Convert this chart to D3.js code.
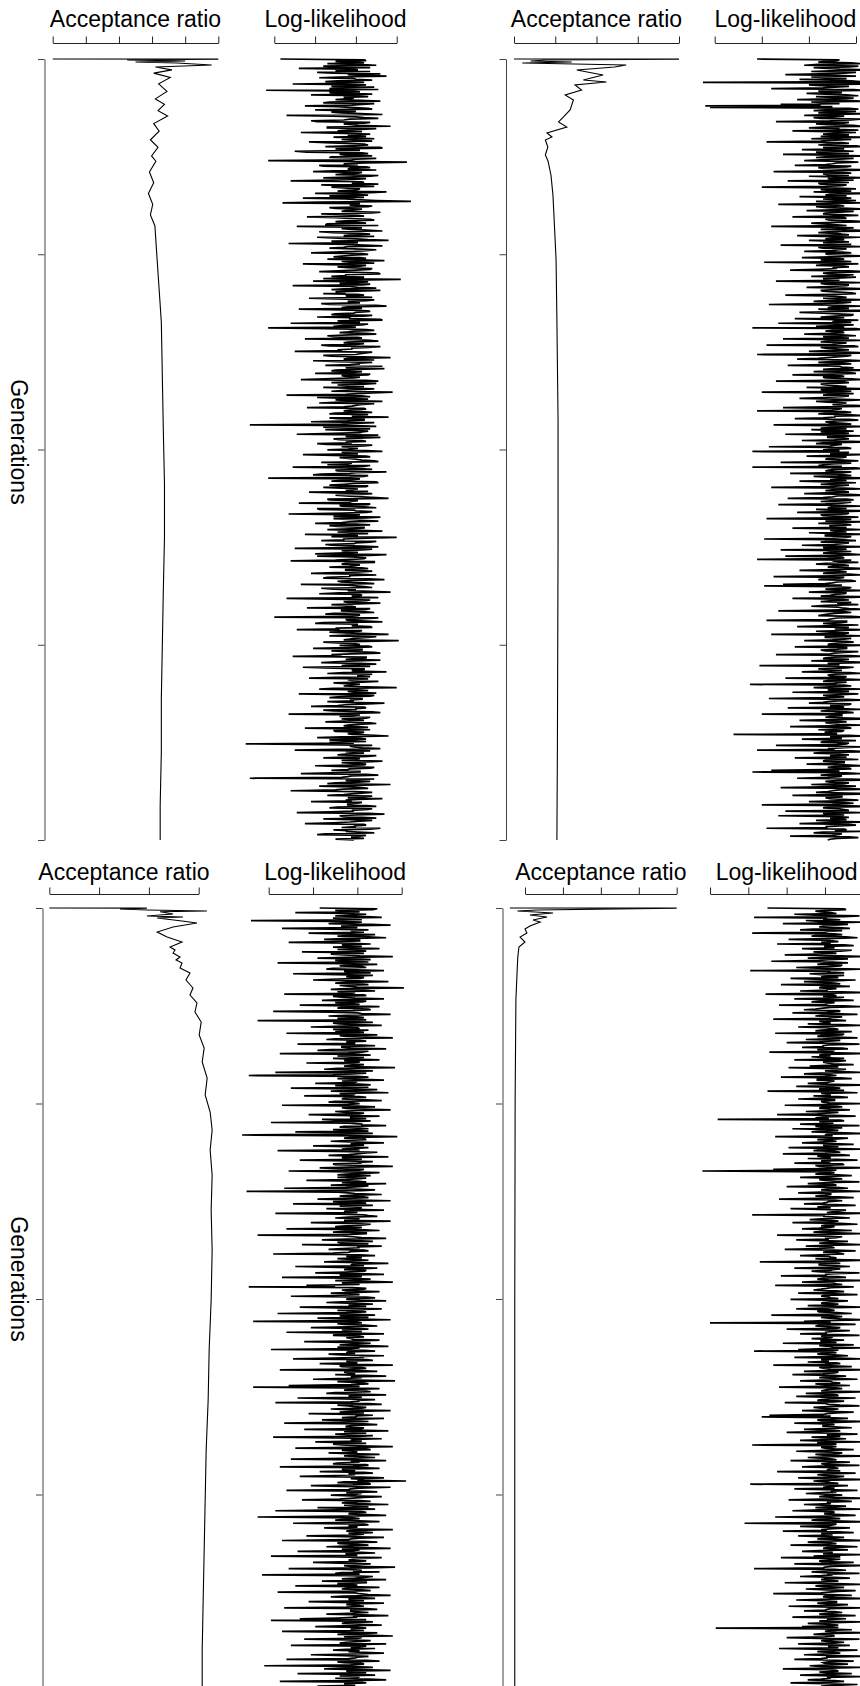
<!DOCTYPE html>
<html><head><meta charset="utf-8">
<script src="https://cdn.jsdelivr.net/npm/d3@7"></script>
<style>body{margin:0;background:#fff} svg{display:block} text{font-family:"Liberation Sans",Arial,Helvetica,sans-serif;font-size:23px;fill:#000}</style>
</head><body><svg id="chart" width="860" height="1686"></svg>
<script>
// ---------- data ----------
const genMax = 20000;
const genTicks = [0, 5000, 10000, 15000, 20000];

const accTicksTL = [0, 0.2, 0.4, 0.6, 0.8, 1.0];
const accTicksTR = [0, 0.25, 0.5, 0.75, 1.0];
const accTicksBL = [0, 0.2, 0.4, 0.6];
const accTicksBR = [0.1, 0.2, 0.3, 0.4, 0.5];

const llTicksTL = [0, 20, 40, 60];
const llTicksTR = [0, 20, 40, 60];
const llTicksBL = [0, 20, 40, 60];
const llTicksBR = [0, 20, 40, 60, 80];

const accGenTL = [0,3,26,51,77,102,154,205,279,361,471,637,829,1021,1160,1324,1462,1654,1848,2068,2260,2481,2619,2893,3169,3443,3720,3994,4270,5094,5914,6746,8115,9498,10875,12250,13619,15002,16379,17754,19123,20000];
const accTL = [0,1.0,0.45,0.8,0.5,0.75,0.96,0.62,0.72,0.61,0.71,0.64,0.69,0.62,0.675,0.636,0.694,0.61,0.643,0.59,0.636,0.597,0.623,0.584,0.61,0.578,0.604,0.59,0.617,0.63,0.643,0.656,0.662,0.668,0.675,0.675,0.668,0.662,0.656,0.656,0.649,0.649];

const accGenTR = [0,3,26,51,77,102,154,205,282,410,538,589,666,794,922,1050,1306,1485,1613,1741,1894,1997,2074,2253,2458,2611,2970,3482,3994,5146,6682,9242,12314,15130,17690,20000];
const accTR = [0,1.0,0.2,0.1,0.35,0.05,0.68,0.61,0.38,0.54,0.42,0.56,0.37,0.41,0.31,0.36,0.34,0.30,0.27,0.32,0.2,0.23,0.19,0.205,0.19,0.206,0.224,0.236,0.242,0.255,0.26,0.267,0.267,0.265,0.263,0.26];

const accGenBL = [0,3,26,51,77,95,153,205,230,256,333,384,486,614,742,870,998,1074,1151,1253,1330,1407,1535,1663,1842,2046,2225,2430,2660,2916,3249,3581,3939,4349,4783,5218,5679,6190,6830,7725,8748,10027,11306,12585,13864,15143,16422,17701,18980,20000];
const accBL = [0,0.392,0.284,0.392,0.633,0.445,0.497,0.392,0.537,0.433,0.533,0.593,0.497,0.433,0.473,0.533,0.485,0.505,0.497,0.525,0.509,0.533,0.525,0.565,0.549,0.577,0.565,0.593,0.585,0.610,0.602,0.622,0.614,0.634,0.626,0.646,0.654,0.646,0.654,0.650,0.654,0.650,0.642,0.638,0.630,0.626,0.622,0.618,0.614,0.614];

const accGenBR = [0,3,51,77,128,179,230,307,358,460,537,640,742,870,998,1253,1663,2353,4911,10027,15143,20000];
const accBR = [0.06,0.5,0.132,0.08,0.174,0.113,0.158,0.121,0.14,0.113,0.1,0.105,0.087,0.1,0.084,0.081,0.079,0.076,0.074,0.073,0.073,0.073];

const llTL = [
3,44,45,30,38,44,26,41,50,24,33,47,12,36,41,30,47,21,29,52,36,43,55,32,22,39,40,48,31,25,44,35,9,45,37,28,49,33,27,51,-4,38,42,27,35,48,18,40,46,34,
39,35,30,42,52,27,24,49,43,38,15,31,37,46,48,20,33,40,28,33,45,53,6,29,40,44,51,37,34,18,21,47,44,34,38,41,57,26,26,50,42,36,31,43,13,30,47,39,36,45,
29,40,49,33,41,48,17,25,35,44,46,37,25,52,53,30,38,42,10,16,43,46,32,35,48,28,27,50,40,38,-3,32,65,45,34,41,22,24,45,47,37,36,50,29,19,43,41,34,30,51,
47,36,24,45,39,29,8,43,44,38,51,23,33,49,28,34,42,41,36,31,55,47,20,39,46,27,31,44,14,35,40,50,67,22,4,42,38,37,48,46,27,30,43,40,35,33,52,48,23,38,
41,44,16,30,37,47,49,35,30,40,45,26,25,51,11,37,43,33,38,45,53,22,29,42,47,38,34,49,21,31,40,46,56,28,32,41,7,36,44,53,36,34,27,39,50,45,39,29,18,43,
46,38,33,29,42,45,26,41,54,33,37,49,14,27,45,42,31,36,48,47,40,31,22,40,51,52,35,35,28,44,43,24,62,39,19,46,38,32,47,43,9,37,41,50,34,28,52,41,30,35,
24,41,44,35,38,48,17,30,49,45,36,38,42,23,27,50,55,36,33,43,12,33,46,47,40,39,30,28,48,44,21,37,37,52,53,31,35,42,8,46,43,34,29,40,-3,26,45,49,39,36,
32,45,50,37,26,29,41,43,15,39,47,51,36,34,44,40,23,27,52,46,38,38,31,33,10,48,45,42,40,24,28,44,57,36,34,49,19,31,48,41,42,37,25,53,37,35,54,40,30,28,
43,39,20,47,46,33,35,42,39,25,13,45,51,37,28,50,44,31,37,44,24,36,49,41,33,28,58,48,41,35,6,43,47,21,36,46,30,38,53,32,22,49,42,40,38,34,16,44,45,37,
34,42,48,30,27,46,40,38,56,27,31,44,44,36,18,49,39,33,-12,40,50,24,36,47,25,37,46,43,42,29,11,51,37,35,52,41,29,32,43,45,35,38,21,26,48,44,33,39,41,36,
26,45,53,33,38,41,14,29,45,47,32,36,40,43,49,51,23,38,36,26,47,44,9,35,42,48,30,31,55,40,37,23,19,46,44,37,-3,42,39,34,28,50,51,39,34,27,46,45,24,33,
41,38,35,46,17,30,48,43,30,35,43,50,56,26,27,41,38,37,12,47,46,32,33,44,50,21,22,39,40,48,45,34,7,42,36,29,52,45,29,36,42,51,37,33,20,40,47,27,31,44,
44,37,26,42,53,31,38,46,15,39,41,28,60,45,34,34,23,50,47,40,39,25,28,43,51,36,10,48,43,33,36,41,31,20,55,47,21,38,45,44,38,30,8,49,49,35,33,42,40,37,
27,43,46,35,35,48,42,30,18,41,50,37,37,26,24,46,54,39,31,33,44,49,13,36,40,44,48,23,29,40,36,47,57,32,22,42,43,38,39,51,6,28,47,45,34,36,52,41,28,34,
38,40,16,47,45,33,33,44,49,29,25,42,41,37,0,51,44,35,36,45,53,24,20,41,39,38,47,48,30,32,11,43,42,27,35,46,56,36,27,50,46,39,37,34,61,45,24,31,40,42,
32,46,48,36,19,43,43,28,37,49,52,38,28,33,9,45,45,40,35,52,40,30,23,42,50,37,33,47,14,25,44,44,38,39,55,34,26,48,41,41,47,31,17,46,36,38,51,43,29,35,
42,38,34,45,60,29,22,41,46,36,39,50,12,33,49,47,31,27,43,43,37,39,26,35,54,46,35,31,18,44,45,40,40,24,29,48,52,37,7,42,38,32,47,45,33,39,44,34,25,47,
50,41,36,34,41,46,15,38,47,29,30,44,43,36,38,49,56,33,21,42,45,27,34,45,27,39,-14,24,48,37,39,43,52,31,10,47,35,40,44,35,31,50,46,36,24,42,40,33,53,45,
33,39,45,44,20,31,49,47,37,36,28,42,42,28,13,45,51,38,36,33,-12,49,39,35,47,41,30,26,57,44,22,37,43,46,34,30,8,40,48,43,38,34,26,48,44,36,53,41,35,38,
18,43,41,36,36,45,50,31,27,48,46,38,39,27,11,46,54,40,32,34,43,50,24,37,48,42,37,29,15,44,45,39,40,33,52,47,29,36,35,41,49,25,21,45,42,38,38,44,30,39];

const llTR = [
18,53,52,47,44,58,63,44,38,61,57,42,48,53,66,49,41,60,55,45,30,52,60,41,47,56,36,50,58,62,-5,60,66,40,45,57,51,46,24,59,62,44,49,54,39,47,56,61,43,50,
59,48,35,56,64,41,47,53,28,45,-4,50,-2,57,61,47,42,60,53,44,67,51,38,55,50,42,45,62,58,49,26,57,55,43,48,59,63,46,40,53,52,61,33,48,60,52,46,57,54,45,
65,52,41,58,49,45,22,54,57,49,44,60,62,46,51,55,37,51,59,43,47,57,29,50,64,48,43,59,53,45,38,54,61,52,50,47,34,58,56,44,46,55,66,49,25,53,58,46,48,57,
40,55,63,48,52,59,31,50,57,44,45,56,54,47,20,52,60,45,49,58,42,53,67,49,47,56,36,51,58,46,51,60,43,54,62,48,27,52,55,43,48,57,64,50,39,59,53,47,46,53,
61,50,33,55,56,47,49,58,65,51,41,46,52,56,24,49,59,53,45,60,68,48,44,52,54,57,35,45,62,51,47,55,40,49,57,46,50,58,28,52,63,44,46,56,53,50,38,54,58,47,
48,56,64,49,37,52,55,45,50,58,21,51,61,47,43,55,57,50,52,44,32,57,66,52,46,48,59,54,41,60,54,46,49,53,26,50,63,45,47,57,56,49,39,55,67,52,45,46,51,58,
60,51,30,47,53,56,46,52,65,48,42,58,55,45,23,53,62,50,48,57,44,49,68,54,36,46,52,59,58,51,45,55,34,47,61,53,50,58,27,49,59,52,43,55,16,60,64,50,47,54,
55,49,38,54,60,46,49,57,29,51,63,48,45,56,53,50,22,59,61,45,47,53,57,48,40,55,66,47,18,58,56,52,48,44,35,57,62,50,44,55,58,47,31,53,54,59,51,46,67,52,
42,57,60,50,33,53,55,46,47,58,64,49,26,55,57,51,45,47,52,56,39,52,65,45,48,58,20,53,59,49,46,57,54,46,36,51,62,55,43,48,56,53,50,59,68,47,29,54,53,50,
18,55,58,48,44,56,63,51,51,46,34,57,61,52,47,49,55,58,25,47,66,53,45,56,41,50,59,45,52,57,30,52,62,48,48,55,57,51,37,58,67,46,43,54,51,49,23,56,58,50,
46,53,16,57,56,49,64,52,39,56,54,48,47,55,61,50,28,58,50,46,44,54,16,60,63,51,48,47,58,55,32,52,55,58,42,49,66,53,49,56,36,48,60,51,45,57,53,49,24,55,
62,50,47,55,57,48,38,57,65,52,50,46,31,56,59,51,45,58,54,47,27,53,63,50,48,56,43,49,68,54,35,57,56,45,46,53,61,50,22,58,53,47,64,52,44,55,58,49,49,56,
33,54,62,49,51,56,40,52,66,47,47,58,56,50,21,55,60,48,45,57,54,51,37,53,64,46,49,56,28,52,58,49,46,57,63,51,30,54,55,48,18,58,50,53,61,47,43,55,57,50,
48,56,65,51,36,53,56,48,46,57,62,50,25,55,53,46,44,58,60,52,50,47,29,54,21,50,58,57,47,53,64,48,40,56,55,51,49,45,67,55,33,52,57,49,45,58,52,54,61,47,
41,52,54,57,63,49,27,55,58,51,48,46,44,58,66,52,50,48,22,56,56,53,46,50,61,47,35,57,53,51,65,54,43,49,57,55,24,52,62,47,47,58,55,50,38,56,59,53,49,48,
64,50,34,56,56,52,45,47,61,55,51,49,26,57,63,51,47,46,57,54,41,58,66,48,49,53,19,50,59,56,44,52,54,47,37,57,62,51,48,49,56,55,30,53,65,48,46,56,52,51,
15,55,58,49,42,53,63,48,50,57,33,51,61,54,46,50,55,47,23,56,65,52,48,46,40,58,57,49,52,55,31,53,62,48,45,56,59,51,20,54,54,49,47,57,67,50,36,52,56,47,
49,53,63,48,32,56,58,51,44,55,54,47,47,52,8,57,64,49,51,54,37,50,60,46,45,57,56,52,26,48,62,55,48,51,18,58,65,47,42,53,57,49,50,56,34,52,61,47,46,55,
55,49,39,55,64,51,48,57,58,47,24,53,16,56,62,50,45,54,53,48,35,57,66,52,47,49,57,55,41,51,60,46,28,57,63,53,50,48,43,56,68,50,33,54,54,47,49,55,61,52,
40,54,59,50,20,56,65,48,46,53,55,57,30,51,62,46,48,55,27,52,57,49,51,56,43,50,64,47,36,57,60,53,47,48,22,55,56,51,63,46,42,54,53,50,32,57,61,52,49,48];

const llBL = [
23,49,47,30,36,41,12,35,44,38,30,44,51,29,38,42,-8,30,42,36,27,46,55,33,33,40,6,28,45,37,39,43,18,32,48,39,31,45,53,34,25,41,41,29,9,38,46,33,35,42,
29,37,50,31,40,44,15,36,43,28,34,41,56,35,22,40,46,30,37,45,4,33,49,38,32,42,44,29,26,39,52,34,38,46,11,31,47,37,35,43,41,28,20,40,54,35,30,41,45,32,
36,40,61,35,28,42,48,31,39,37,7,43,44,29,33,39,52,34,24,44,42,30,37,41,14,36,50,33,31,45,46,38,2,28,40,42,55,35,27,40,43,31,36,44,-5,37,47,29,32,39,
51,34,19,40,41,29,45,38,30,43,8,36,49,32,35,44,56,30,26,41,44,35,38,39,13,42,48,33,33,37,53,28,22,45,42,36,5,40,46,31,37,43,29,38,50,34,40,41,17,36,
43,39,34,42,57,31,25,37,47,34,3,44,38,29,-9,40,45,36,31,43,52,33,40,38,21,41,46,30,36,45,10,35,49,39,28,42,54,32,39,37,16,41,44,34,33,44,51,30,27,38,
41,36,6,40,48,33,35,43,55,38,30,35,43,41,18,31,50,37,37,44,24,30,46,39,1,36,42,42,53,34,32,40,45,29,39,45,12,37,47,33,-12,41,58,38,34,43,44,35,28,40,
52,37,38,43,20,34,45,39,33,41,4,30,49,44,40,36,27,38,54,33,36,42,14,35,47,40,42,29,30,45,56,37,23,32,43,41,9,36,50,43,35,31,46,38,31,44,39,35,17,40,
44,33,53,40,28,45,41,35,7,38,48,42,-10,31,36,39,51,36,32,43,45,34,22,41,55,29,38,44,11,37,47,32,40,42,26,38,52,35,34,40,3,33,43,45,49,36,30,41,37,34,
55,40,19,36,46,43,35,30,42,38,8,41,50,34,29,44,44,37,-5,33,38,42,53,35,24,39,47,31,33,45,15,36,51,40,41,33,27,43,45,37,36,29,2,41,48,35,39,42,31,38,
45,34,25,41,54,38,37,43,12,31,49,37,34,44,43,35,21,40,52,32,40,42,6,36,46,39,30,45,56,33,36,41,17,30,-9,38,44,43,33,35,50,40,28,37,41,29,10,44,48,36,
35,41,53,33,26,39,47,36,39,44,14,30,51,38,31,42,44,35,4,40,48,32,37,45,22,37,55,34,-7,40,42,31,34,43,49,36,19,39,45,33,38,42,8,37,52,30,29,41,43,35,
37,38,50,42,16,34,46,40,32,45,54,31,41,37,1,43,48,36,35,39,27,33,52,41,43,29,11,44,47,35,38,40,23,38,56,32,33,42,44,36,5,41,49,34,36,39,30,43,53,37,
42,35,20,40,57,31,39,43,45,37,9,41,-7,33,50,38,34,44,46,30,26,39,53,36,38,42,13,34,48,40,41,37,3,45,51,31,36,38,44,42,28,35,55,39,32,43,18,36,47,40,
39,33,52,41,24,37,45,30,7,43,49,38,35,35,43,42,16,39,54,34,40,44,30,36,47,40,2,31,51,38,37,42,21,35,44,29,33,41,56,37,12,44,46,33,38,40,27,36,50,39,
34,42,48,35,10,40,53,37,41,31,29,44,45,38,5,41,50,33,36,39,23,43,47,36,39,30,14,42,52,37,43,40,62,34,31,45,46,38,19,32,55,41,37,36,8,43,49,35,42,39,
28,37,51,43,38,32,15,41,46,36,33,40,54,34,40,45,22,39,48,31,3,42,44,37,36,44,53,33,-5,38,41,35,30,41,50,30,11,43,45,36,39,40,25,34,56,38,35,42,47,36,
43,39,17,34,52,41,37,36,6,43,49,31,32,40,45,37,26,44,55,33,41,38,13,42,48,35,35,40,1,30,51,43,38,36,44,39,20,32,46,41,34,37,57,45,9,35,42,38,50,33,
30,41,-3,36,47,43,39,33,53,38,24,44,44,31,36,40,12,37,50,35,33,42,46,30,4,39,41,45,55,34,28,41,48,36,38,43,18,32,52,38,35,40,43,35,7,44,49,37,37,39,
45,36,26,42,54,38,40,31,14,44,1,39,47,35,33,41,51,33,21,40,44,37,38,43,6,30,49,38,31,45,56,34,42,40,16,36,46,42,35,32,53,39,10,44,41,37,48,35,29,41,
36,43,52,38,19,34,45,40,39,36,8,44,50,31,34,42,43,37,-2,39,47,33,25,41,55,35,38,44,13,38,48,32,41,40,30,45,53,36,5,41,44,34,37,39,22,43,49,37,40,38];

const llBR = [
30,70,71,62,55,58,63,66,44,55,78,70,23,61,59,68,50,57,80,64,38,72,66,59,57,67,73,54,47,69,62,60,22,65,69,56,53,71,77,62,41,58,64,67,58,63,35,70,75,60,
60,65,48,58,74,68,54,61,66,55,39,67,81,60,51,72,62,57,32,64,72,59,56,69,68,62,45,56,79,66,21,61,63,70,52,58,70,63,58,67,42,55,76,64,49,60,65,68,37,62,
73,58,57,66,61,61,47,69,82,56,29,64,66,59,70,62,44,68,75,57,53,65,62,60,36,70,79,63,59,55,49,67,68,61,43,64,77,58,55,69,64,62,33,66,71,57,60,63,51,68,
80,63,46,60,65,67,58,55,74,64,34,70,69,58,56,66,77,61,50,68,62,57,40,65,78,62,59,59,48,69,72,56,65,64,31,67,81,60,57,63,53,58,70,66,44,71,67,59,61,64,
75,61,52,67,41,58,71,64,60,69,79,57,49,63,66,60,37,68,74,56,56,65,63,61,51,59,82,66,45,62,68,57,58,70,30,64,77,58,62,63,54,67,72,60,46,65,65,58,59,62,
80,60,39,66,69,58,57,63,73,61,50,67,61,56,35,65,76,59,55,62,4,68,70,57,64,64,47,60,78,55,58,69,43,62,67,58,53,66,81,61,60,64,34,59,72,67,56,63,66,57,
48,64,75,59,62,67,41,62,79,57,54,65,68,60,38,68,73,56,59,63,51,66,77,58,63,61,44,69,70,55,57,64,82,60,33,66,-4,62,65,58,55,67,74,61,47,63,69,57,60,65,
78,59,51,64,66,57,40,66,72,61,58,68,80,58,46,63,63,60,55,67,75,56,36,65,69,62,61,59,49,66,76,60,56,63,42,57,71,68,64,61,81,64,22,60,59,66,73,58,52,63,
67,62,43,68,77,60,58,65,62,57,48,63,74,59,54,67,81,61,35,56,69,66,60,62,45,58,72,64,57,69,79,60,50,63,65,57,39,65,76,61,59,67,70,58,47,62,63,66,55,60,
80,64,26,61,68,57,57,66,73,60,44,68,64,63,53,58,78,65,60,61,37,67,71,59,56,62,82,57,48,64,66,69,34,60,75,63,61,58,54,66,70,61,46,65,77,59,58,62,63,67,
42,60,72,65,59,58,67,63,51,67,79,59,45,62,65,56,57,66,74,61,32,64,69,58,62,68,81,60,49,63,0,65,76,57,55,62,68,66,40,59,73,64,60,61,47,67,78,58,64,63,
53,62,70,58,58,66,38,61,75,57,63,64,80,60,46,67,23,63,66,59,56,65,72,61,44,68,79,58,61,62,51,66,68,60,33,64,74,57,59,63,82,61,49,67,65,59,43,64,71,60,
57,65,77,59,47,63,64,68,55,60,73,57,36,66,69,62,60,58,81,64,50,61,66,67,45,59,76,63,58,56,70,65,39,60,62,68,78,62,54,58,67,64,48,61,75,66,61,59,31,63,
27,61,72,64,56,58,80,66,44,62,65,59,59,67,74,60,49,63,68,57,40,65,77,61,62,68,53,59,71,64,47,60,79,56,57,66,22,62,66,58,60,65,75,61,45,63,69,67,55,59,
82,63,51,60,64,66,42,58,73,64,58,61,78,57,48,65,67,62,61,68,35,59,76,63,56,60,70,66,46,58,81,64,54,61,63,67,21,59,72,62,59,65,44,60,77,63,66,57,50,64,
69,60,57,65,80,58,41,67,74,61,62,63,49,59,71,62,55,66,79,57,43,64,65,60,60,68,76,61,34,63,68,58,53,65,82,60,18,66,64,62,47,59,73,64,58,61,38,67,75,58,
61,64,46,59,70,62,56,66,81,58,51,63,66,60,42,67,77,61,59,65,72,57,48,64,63,59,79,62,54,68,37,60,68,63,57,58,75,66,44,61,82,64,60,59,23,65,71,62,53,60,
78,61,64,58,47,65,73,60,58,63,67,57,39,66,80,62,55,59,70,64,50,61,76,67,62,58,33,63,74,60,59,65,81,62,45,59,66,66,56,61,72,64,41,58,79,63,61,60,49,65,
69,62,57,66,76,59,43,64,71,61,63,57,80,65,51,60,67,63,48,67,3,58,74,62,60,66,82,59,54,64,65,60,40,57,78,63,58,61,70,65,46,59,73,62,62,67,36,60,77,64,
56,63,68,59,49,65,81,61,61,58,44,66,75,62,59,60,72,64,52,57,79,63,38,60,66,67,57,62,74,59,47,64,80,61,63,58,51,65,70,63,42,60,77,66,58,61,67,59,60,62];

// ---------- layout ----------
const panels = [
  {top:59, bottom:840, genX:45, axisY:43, titleY:27, labelY:442, label:true,
   accTicks:accTicksTL, accRange:[52.7,218.3], llTicks:llTicksTL, llRange:[274.3,396.7],
   accGen:accGenTL, acc:accTL, ll:llTL},
  {top:59, bottom:840, genX:506.5, axisY:43, titleY:27, label:false,
   accTicks:accTicksTR, accRange:[514,679], llTicks:llTicksTR, llRange:[714.7,856],
   accGen:accGenTR, acc:accTR, ll:llTR},
  {top:908, bottom:1690, genX:43, axisY:894, titleY:880, labelY:1279, label:true,
   accTicks:accTicksBL, accRange:[49.3,198.7], llTicks:llTicksBL, llRange:[268.7,401.7],
   accGen:accGenBL, acc:accBL, ll:llBL},
  {top:908, bottom:1690, genX:503, axisY:894, titleY:880, label:false,
   accTicks:accTicksBR, accRange:[525,676.7], llTicks:llTicksBR, llRange:[710,863.3],
   accGen:accGenBR, acc:accBR, ll:llBR}
];

const svg = d3.select("#chart");
svg.append("rect").attr("width",860).attr("height",1686).attr("fill","#fff");

panels.forEach(p => {
  const y = d3.scaleLinear().domain([0, genMax]).range([p.top, p.bottom]);
  const xa = d3.scaleLinear().domain(d3.extent(p.accTicks)).range(p.accRange);
  const xl = d3.scaleLinear().domain(d3.extent(p.llTicks)).range(p.llRange);

  svg.append("g").attr("transform", `translate(0,${p.axisY})`).attr("color","#222")
    .call(d3.axisTop(xa).tickValues(p.accTicks).tickFormat("").tickSize(6.5).tickSizeOuter(0));
  svg.append("g").attr("transform", `translate(0,${p.axisY})`).attr("color","#222")
    .call(d3.axisTop(xl).tickValues(p.llTicks).tickFormat("").tickSize(6.5).tickSizeOuter(0));

  svg.append("g").attr("transform", `translate(${p.genX-0.5},0)`).attr("color","#444")
    .call(d3.axisLeft(y).tickValues(genTicks).tickFormat("").tickSize(6.5).tickSizeOuter(0));

  svg.append("text").attr("x", (p.accRange[0]+p.accRange[1])/2).attr("y", p.titleY)
    .attr("text-anchor","middle").text("Acceptance ratio");
  svg.append("text").attr("x", (p.llRange[0]+p.llRange[1])/2).attr("y", p.titleY)
    .attr("text-anchor","middle").text("Log-likelihood");
  if (p.label) {
    svg.append("text").attr("transform", `translate(19,${p.labelY}) rotate(90)`)
      .attr("dy","0.35em").attr("text-anchor","middle").text("Generations");
  }

  const accData = p.accGen.map((g,i) => [g, p.acc[i]]);
  svg.append("path").datum(accData)
    .attr("d", d3.line().x(d => xa(d[1])).y(d => y(d[0])))
    .attr("fill","none").attr("stroke","#000").attr("stroke-width",1.1);

  const n = p.ll.length;
  const llData = p.ll.map((v,i) => [i*genMax/(n-1), v]);
  svg.append("path").datum(llData)
    .attr("d", d3.line().x(d => xl(d[1])).y(d => y(d[0])))
    .attr("fill","none").attr("stroke","#000").attr("stroke-width",1.7);
});
</script></body></html>
